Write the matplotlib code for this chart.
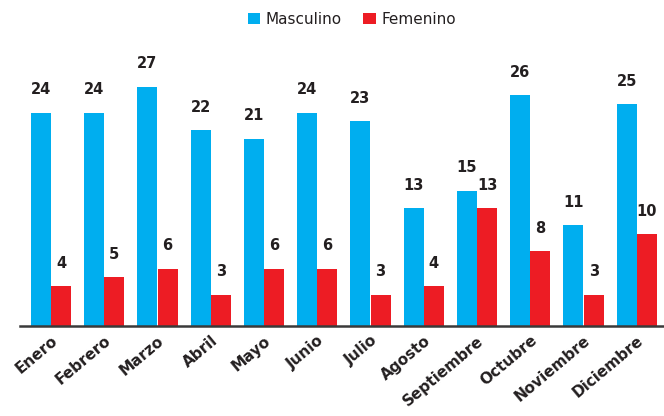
import matplotlib.pyplot as plt
import numpy as np

meses = ["Enero", "Febrero", "Marzo", "Abril", "Mayo", "Junio", "Julio",
         "Agosto", "Septiembre", "Octubre", "Noviembre", "Diciembre"]
masculino = [24, 24, 27, 22, 21, 24, 23, 13, 15, 26, 11, 25]
femenino = [4, 5, 6, 3, 6, 6, 3, 4, 13, 8, 3, 10]

azul = "#00AEEF"
rojo = "#ED1C24"
texto = "#231F20"

fig = plt.figure(figsize=(6.64, 4.16), dpi=100)
ax = fig.add_axes([20 / 664, 90 / 416, 644 / 664, 286 / 416])

x = np.arange(len(meses))
w = 0.375
base = -0.62  # bars sit on the baseline line

b1 = ax.bar(x - 0.19, np.array(masculino) - base, w, bottom=base,
            color=azul, label="Masculino")
b2 = ax.bar(x + 0.19, np.array(femenino) - base, w, bottom=base,
            color=rojo, label="Femenino")

for bars, vals in [(b1, masculino), (b2, femenino)]:
    for rect, v in zip(bars, vals):
        ax.annotate(str(v), (rect.get_x() + rect.get_width() / 2, v),
                    xytext=(0, 11), textcoords="offset points",
                    ha="center", va="bottom", fontsize=10.5,
                    fontweight="bold", color=texto)

ax.set_xlim(-0.58, 11.51)
ax.set_ylim(base, 32.4)
ax.set_yticks([])
ax.set_xticks(x)
ax.set_xticklabels(meses, rotation=40, ha="right", rotation_mode="anchor",
                   fontsize=11, fontweight="bold", color=texto)
ax.tick_params(axis="x", length=0, pad=5)
for s in ["top", "right", "left"]:
    ax.spines[s].set_visible(False)
ax.spines["bottom"].set_color("#3a3a3a")
ax.spines["bottom"].set_linewidth(1.8)

fig.legend(handles=[b1, b2], loc="upper center", bbox_to_anchor=(0.53, 1.005),
           ncol=2, frameon=False, fontsize=11, handlelength=0.8,
           handleheight=0.8, handletextpad=0.4, columnspacing=1.4,
           labelcolor=texto)

fig.savefig("out.png", dpi=100)
